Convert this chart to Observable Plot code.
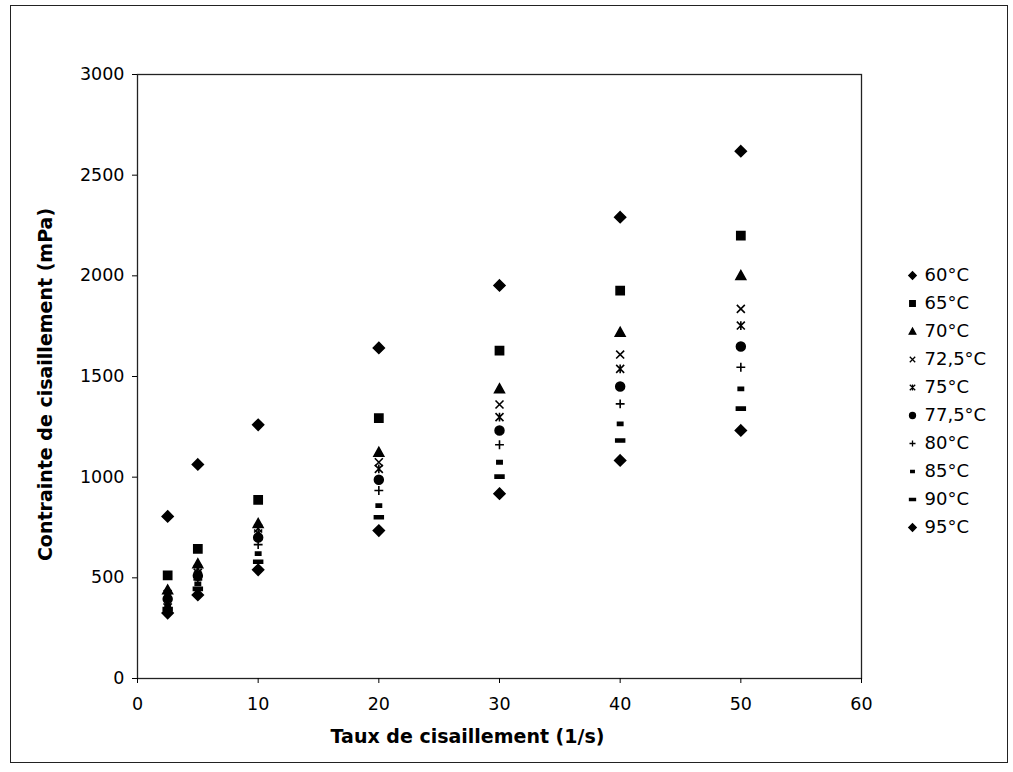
<!DOCTYPE html>
<html>
<head>
<meta charset="utf-8">
<script src="https://cdn.jsdelivr.net/npm/d3@7"></script>
<script src="https://cdn.jsdelivr.net/npm/@observablehq/plot@0.6"></script>
<style>
  body { margin: 0; background: #fff; }
  #wrap { position: relative; width: 1013px; height: 772px; background: #fff; overflow: hidden; }
  #border { position: absolute; left: 10px; top: 5px; width: 998px; height: 758px; border: 1.5px solid #222; box-sizing: border-box; }
  #chart { position: absolute; left: 0; top: 0; }
  #legend { position: absolute; left: 900px; top: 258px; }
  svg { display: block; }
</style>
</head>
<body>
<div id="wrap"><div id="border"></div><div id="chart"></div><div id="legend"></div></div>
<script>
const shearRates = [2.5, 5, 10, 20, 30, 40, 50];
const seriesNames = ["60°C", "65°C", "70°C", "72,5°C", "75°C", "77,5°C", "80°C", "85°C", "90°C", "95°C"];
const s60   = [805, 1063, 1260, 1642, 1952, 2291, 2619];
const s65   = [512, 644, 887, 1293, 1629, 1927, 2200];
const s70   = [440, 570, 770, 1124, 1439, 1720, 2002];
const s72_5 = [420, 545, 745, 1074, 1361, 1609, 1836];
const s75   = [405, 525, 720, 1041, 1298, 1538, 1753];
const s77_5 = [395, 510, 700, 987, 1232, 1450, 1649];
const s80   = [370, 490, 665, 934, 1161, 1364, 1546];
const s85   = [360, 470, 620, 859, 1074, 1265, 1439];
const s90   = [345, 445, 580, 801, 1003, 1182, 1340];
const s95   = [325, 415, 540, 735, 918, 1083, 1232];
const xTicks = [0, 10, 20, 30, 40, 50, 60];
const yTicks = [0, 500, 1000, 1500, 2000, 2500, 3000];

const allSeries = [s60, s65, s70, s72_5, s75, s77_5, s80, s85, s90, s95];

// custom marker shapes (Excel-like)
const diamond = {draw(c, size) { const h = Math.sqrt(size) * 0.62; c.moveTo(0, -h); c.lineTo(h, 0); c.lineTo(0, h); c.lineTo(-h, 0); c.closePath(); }};
const square = {draw(c, size) { const h = Math.sqrt(size) * 0.46; c.rect(-h, -h, 2 * h, 2 * h); }};
const triangle = {draw(c, size) { const h = Math.sqrt(size) * 0.55; c.moveTo(0, -h); c.lineTo(h, h * 0.8); c.lineTo(-h, h * 0.8); c.closePath(); }};
const cross = {draw(c, size) { const h = Math.sqrt(size) * 0.45; c.moveTo(-h, -h); c.lineTo(h, h); c.moveTo(h, -h); c.lineTo(-h, h); }};
const star = {draw(c, size) { const h = Math.sqrt(size) * 0.45; c.moveTo(-h, -h); c.lineTo(h, h); c.moveTo(h, -h); c.lineTo(-h, h); c.moveTo(0, -h * 1.1); c.lineTo(0, h * 1.1); }};
const circle = {draw(c, size) { const r = Math.sqrt(size) * 0.5; c.moveTo(r, 0); c.arc(0, 0, r, 0, 2 * Math.PI); }};
const plus = {draw(c, size) { const h = Math.sqrt(size) * 0.5; c.moveTo(-h, 0); c.lineTo(h, 0); c.moveTo(0, -h); c.lineTo(0, h); }};
const dashSmall = {draw(c, size) { const h = Math.sqrt(size) * 0.3; c.rect(-h, -h * 0.6, 2 * h, h * 1.2); }};
const dashLong = {draw(c, size) { const h = Math.sqrt(size) * 0.5; c.rect(-h, -h * 0.35, 2 * h, h * 0.7); }};
const symbols = [diamond, square, triangle, cross, star, circle, plus, dashSmall, dashLong, diamond];

const data = [];
seriesNames.forEach((name, i) => {
  allSeries[i].forEach((v, j) => data.push({series: name, rate: shearRates[j], stress: v}));
});

const font = "'DejaVu Sans', Verdana, sans-serif";

const chart = Plot.plot({
  width: 1013,
  height: 772,
  marginLeft: 137,
  marginRight: 152,
  marginTop: 74,
  marginBottom: 94,
  style: {fontFamily: font, fontSize: "17.5px", color: "#000", background: "transparent"},
  x: {domain: [0, 60], ticks: xTicks, label: null},
  y: {domain: [0, 3000], ticks: yTicks, label: null, tickFormat: d => String(d)},
  symbol: {domain: seriesNames, range: symbols},
  marks: [
    Plot.frame({stroke: "#222", strokeWidth: 1.3}),
    Plot.axisX({ticks: xTicks, tickSize: 5, tickPadding: 14, fontSize: 17.5, label: null}),
    Plot.axisY({ticks: yTicks, tickSize: 5, tickPadding: 8, fontSize: 17.5, label: null, tickFormat: d => String(d)}),
    Plot.dot(data, {x: "rate", y: "stress", symbol: "series", r: 5, fill: "#000", stroke: "#000", strokeWidth: 1.6}),
    Plot.text(["Taux de cisaillement (1/s)"], {frameAnchor: "bottom", dx: -32, dy: 64, text: d => d, textAnchor: "middle", fontWeight: "bold", fontSize: 19}),
    Plot.text(["Contrainte de cisaillement (mPa)"], {frameAnchor: "left", dx: -92, dy: 8, rotate: -90, textAnchor: "middle", text: d => d, fontWeight: "bold", fontSize: 19})
  ]
});
document.getElementById("chart").append(chart);

const legend = Plot.plot({
  width: 110,
  height: 290,
  margin: 0,
  style: {fontFamily: font, fontSize: "18px", color: "#000", background: "transparent"},
  x: {domain: [0, 110], range: [0, 110], axis: null},
  y: {type: "point", domain: seriesNames, range: [15, 270], padding: 0, axis: null},
  symbol: {domain: seriesNames, range: symbols},
  marks: [
    Plot.dot(seriesNames, {x: () => 12, y: d => d, symbol: d => d, r: 3.4, fill: "#000", stroke: "#000", strokeWidth: 1.3}),
    Plot.text(seriesNames, {x: () => 24, y: d => d, text: d => d, textAnchor: "start", fontSize: 18})
  ]
});
document.getElementById("legend").append(legend);
</script>
</body>
</html>
